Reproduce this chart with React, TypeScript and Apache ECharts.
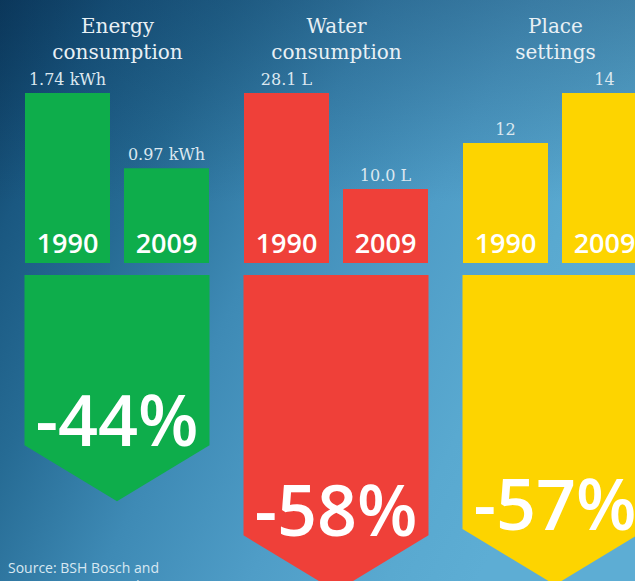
import React, { useEffect, useRef } from 'react';
import * as echarts from 'echarts';

// ---- data ----
const years = ['1990', '2009'];
const groupTitles = ['Energy\nconsumption', 'Water\nconsumption', 'Place\nsettings'];
const energyValues = [1.74, 0.97];
const waterValues = [28.1, 10.0];
const placeValues = [12, 14];
const energyLabels = ['1.74 kWh', '0.97 kWh'];
const waterLabels = ['28.1 L', '10.0 L'];
const placeLabels = ['12', '14'];
const changeCategories = ['Energy consumption', 'Water consumption', 'Place settings'];
const changePercent = [-44, -58, -57];
const sourceLines = ['Source: BSH Bosch and', 'Siemens Home Appliances Group'];

const W = 635;
const H = 581;
const groupColors = ['#0ead4b', '#ef4039', '#fdd400'];
const groupStep = 219;

export default function App() {
  const ref = useRef<HTMLDivElement>(null);

  useEffect(() => {
    document.body.style.margin = '0';
    const chart = echarts.init(ref.current!, undefined, { renderer: 'svg', width: W, height: H });

    const groupValues = [energyValues, waterValues, placeValues];
    const groupLabels = [energyLabels, waterLabels, placeLabels];
    const yRanges = [
      { min: 0, max: 1.74 },
      { min: -3.95, max: 28.1 },
      { min: 7.2, max: 14 },
    ];

    const grids: any[] = [];
    const xAxes: any[] = [];
    const yAxes: any[] = [];
    const series: any[] = [];

    for (let g = 0; g < 3; g++) {
      grids.push({
        left: 18 + g * groupStep,
        top: 93,
        width: 198,
        height: 170,
        outerBoundsMode: 'none',
        containLabel: false,
      });
      xAxes.push({
        type: 'category',
        gridIndex: g,
        data: years,
        z: 10,
        axisLine: { show: false },
        axisTick: { show: false },
        splitLine: { show: false },
        axisLabel: {
          inside: true,
          margin: 7,
          color: '#ffffff',
          fontSize: 27,
          fontWeight: 600,
          fontFamily: 'Open Sans',
          interval: 0,
          hideOverlap: false,
        },
      });
      yAxes.push({
        type: 'value',
        gridIndex: g,
        min: yRanges[g].min,
        max: yRanges[g].max,
        show: false,
      });
      const color = groupColors[g];
      const labels = groupLabels[g];
      series.push({
        type: 'custom',
        xAxisIndex: g,
        yAxisIndex: g,
        data: groupValues[g].map((v, i) => [i, v]),
        z: 2,
        renderItem: (params: any, api: any) => {
          const i = api.value(0);
          const v = api.value(1);
          const p = api.coord([i, v]);
          const bottom = params.coordSys.y + params.coordSys.height;
          return {
            type: 'group',
            children: [
              {
                type: 'rect',
                shape: { x: p[0] - 42.5, y: p[1], width: 85, height: bottom - p[1] },
                style: { fill: color },
              },
              {
                type: 'text',
                x: p[0],
                y: p[1] - 5.5,
                style: {
                  text: labels[i],
                  fill: '#dce8f0',
                  fontSize: 16,
                  fontFamily: 'DejaVu Serif',
                  align: 'center',
                  verticalAlign: 'bottom',
                },
              },
            ],
          };
        },
      });
    }

    // arrows grid
    grids.push({
      left: 7.5,
      top: 275,
      width: 657,
      height: 306,
      outerBoundsMode: 'none',
      containLabel: false,
    });
    xAxes.push({
      type: 'category',
      gridIndex: 3,
      data: changeCategories,
      show: false,
    });
    yAxes.push({ type: 'value', gridIndex: 3, min: -65.1, max: -17.5, show: false });
    series.push({
      type: 'custom',
      xAxisIndex: 3,
      yAxisIndex: 3,
      z: 2,
      data: changePercent.map((v, i) => [i, v]),
      renderItem: (params: any, api: any) => {
        const i = api.value(0);
        const v = api.value(1);
        const p = api.coord([i, v]);
        const top = params.coordSys.y;
        const half = 92.5;
        const cx = p[0];
        const sh = p[1];
        return {
          type: 'group',
          children: [
            {
              type: 'polygon',
              shape: {
                points: [
                  [cx - half, top],
                  [cx + half, top],
                  [cx + half, sh],
                  [cx, sh + 56],
                  [cx - half, sh],
                ],
              },
              style: { fill: groupColors[i] },
            },
            {
              type: 'text',
              x: cx,
              y: sh - 26,
              style: {
                text: `${v}%`,
                fill: '#ffffff',
                fontSize: 70,
                fontWeight: 600,
                fontFamily: 'Open Sans',
                align: 'center',
                verticalAlign: 'middle',
              },
            },
          ],
        };
      },
    });

    const graphics: any[] = [
      {
        type: 'rect',
        z: -10,
        silent: true,
        shape: { x: 0, y: 0, width: W, height: H },
        style: {
          fill: new echarts.graphic.LinearGradient(0, 0, 1, 0.45, [
            { offset: 0, color: '#0c3b5f' },
            { offset: 0.15, color: '#1a5881' },
            { offset: 0.3, color: '#266b94' },
            { offset: 0.5, color: '#3e8ab5' },
            { offset: 0.7, color: '#4f9dc7' },
            { offset: 0.88, color: '#59a9d0' },
            { offset: 1, color: '#5dadd4' },
          ]),
        },
      },
      {
        type: 'rect',
        z: -9,
        silent: true,
        shape: { x: 0, y: 0, width: W, height: H },
        style: {
          fill: new echarts.graphic.LinearGradient(0, 0, 0, 1, [
            { offset: 0, color: 'rgba(8,45,80,0.30)' },
            { offset: 0.35, color: 'rgba(8,45,80,0.0)' },
            { offset: 1, color: 'rgba(8,45,80,0.0)' },
          ]),
        },
      },
    ];
    const titleCenters = [117.5, 336.5, 555.5];
    groupTitles.forEach((t, g) => {
      graphics.push({
        type: 'text',
        x: titleCenters[g],
        y: 13.4,
        z: 5,
        style: {
          text: t,
          fill: '#e8f0f5',
          fontSize: 20,
          lineHeight: 26,
          fontFamily: 'DejaVu Serif',
          align: 'center',
          verticalAlign: 'top',
        },
      });
    });
    sourceLines.forEach((s, k) => {
      graphics.push({
        type: 'text',
        x: 8,
        y: 567.6 + k * 18,
        z: 5,
        style: {
          text: s,
          fill: '#d8e8f2',
          fontSize: 14,
          fontFamily: 'Open Sans',
          align: 'left',
          verticalAlign: 'middle',
        },
      });
    });

    chart.setOption({
      animation: false,
      grid: grids,
      xAxis: xAxes,
      yAxis: yAxes,
      series,
      graphic: graphics,
    });

    return () => chart.dispose();
  }, []);

  return (
    <div
      ref={ref}
      style={{ position: 'absolute', left: 0, top: 0, width: W, height: H, overflow: 'hidden' }}
    />
  );
}
